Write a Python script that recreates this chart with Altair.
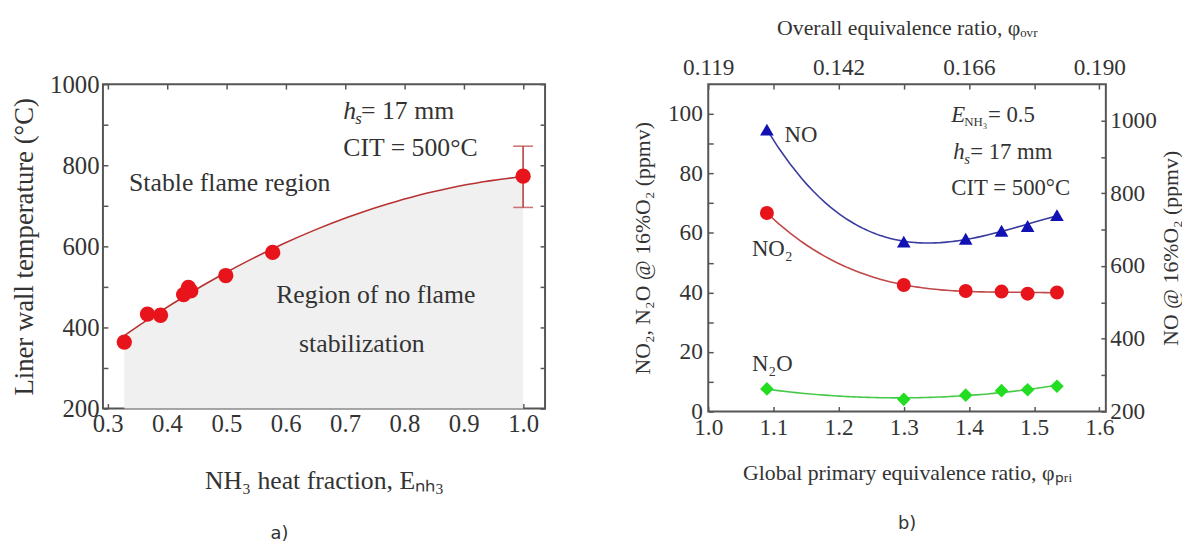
import altair as alt
import pandas as pd

# ---------------- panel a data ----------------
a_frac = [0.328, 0.367, 0.389, 0.428, 0.436, 0.440, 0.499, 0.578, 1.0]
a_temp = [364, 433, 430, 481, 499, 490, 528, 585, 773]
a_err_frac = [1.0]
a_err_lo = [696]
a_err_hi = [847]
a_xticks = [0.3, 0.4, 0.5, 0.6, 0.7, 0.8, 0.9, 1.0]
a_yticks = [200, 300, 400, 500, 600, 700, 800, 900, 1000]
a_text_x = [0.336, 0.584, 0.6225, 0.697]
a_text_y = [757, 479, 359, 843]
a_text = ["Stable flame region", "Region of no flame", "stabilization", "CIT = 500°C"]
a_hs_x = [0.697]
a_hs_y = [933]

# ---------------- panel b data ----------------
b_phi = [1.09, 1.30, 1.395, 1.45, 1.49, 1.535]
b_no = [975, 667, 675, 697, 710, 740]
b_no2 = [66.7, 42.5, 40.5, 40.3, 39.6, 40.0]
b_n2o = [7.6, 4.1, 5.5, 7.0, 7.3, 8.5]
b_xticks = [1.0, 1.1, 1.2, 1.3, 1.4, 1.5, 1.6]
b_top_pos = [1.0, 1.2, 1.4, 1.6]
b_top_labels = ["0.119", "0.142", "0.166", "0.190"]
b_yticks_left = [0, 10, 20, 30, 40, 50, 60, 70, 80, 90, 100]
b_yticks_right = [200, 300, 400, 500, 600, 700, 800, 900, 1000]
b_lab_x = [1.117, 1.067, 1.067, 1.373]
b_lab_y = [92.8, 54.5, 15.9, 75.0]
b_lab = ["NO", "NO₂", "N₂O", "CIT = 500°C"]
b_e_x = [1.373]
b_e_y = [99.5]
b_hs_x = [1.376]
b_hs_y = [87.2]

SERIF = "Liberation Serif"
TXT = "#333333"
AX = "#555555"


def axis(orient, values, fs, labels=True, label_expr=None, title=None,
         title_fs=24, title_pad=10, label_pad=4, **extra):
    kw = dict(orient=orient, values=values, offset=-5, tickSize=5, tickColor=AX,
              tickWidth=1.5, domain=False, grid=False, labels=labels,
              labelFont=SERIF, labelFontSize=fs, labelColor=TXT,
              labelPadding=label_pad, labelFlush=False, labelOverlap=False)
    if label_expr:
        kw["labelExpr"] = label_expr
    if title is not None:
        kw.update(title=title, titleFont=SERIF, titleFontSize=title_fs,
                  titleFontWeight="normal", titleColor=TXT, titlePadding=title_pad)
    else:
        kw["title"] = None
    kw.update(extra)
    return alt.Axis(**kw)


# ================= panel a =================
xs_a = alt.Scale(domain=[0.292, 1.037], nice=False, zero=False)
ys_a = alt.Scale(domain=[200, 1000], nice=False, zero=False)
df_a = pd.DataFrame({"x": a_frac, "y": a_temp})
df_err = pd.DataFrame({"x": a_err_frac, "lo": a_err_lo, "hi": a_err_hi})
every200 = "datum.value % 200 === 0 ? datum.label : ''"


def XA(f, ax=None):
    return alt.X(f, type="quantitative", scale=xs_a, axis=ax)


def YA(f, ax=None):
    return alt.Y(f, type="quantitative", scale=ys_a, axis=ax)


reg_a = alt.Chart(df_a).transform_regression(
    on="x", regression="y", method="poly", order=2, extent=[0.328, 1.0])

area_a = reg_a.mark_area(color="#f0f0f0").encode(
    x=XA("x", axis("bottom", a_xticks, 25, title="NH₃ heat fraction, Eₙₕ₃",
                   title_fs=26, title_pad=32, label_pad=3)),
    y=YA("y", axis("left", a_yticks, 25, label_expr=every200, format="d",
                   title="Liner wall temperature (°C)", title_fs=27, title_pad=11)),
    y2=alt.datum(200),
)
line_a = reg_a.mark_line(color="#b83232", strokeWidth=1.6).encode(x=XA("x"), y=YA("y"))

err_a = alt.Chart(df_err).mark_errorbar(
    color="#b84040", ticks={"size": 20, "thickness": 1.6}, rule={"strokeWidth": 1.6}
).encode(x=XA("x"), y=YA("lo"), y2="hi")

pts_a = alt.Chart(df_a).mark_point(filled=True, size=240, color="#e8141c", opacity=1).encode(
    x=XA("x", axis("top", a_xticks, 25, labels=False)),
    y=YA("y", axis("right", a_yticks, 25, labels=False)),
)

df_at = pd.DataFrame({"x": a_text_x, "y": a_text_y, "t": a_text})
txt_a = alt.Chart(df_at).mark_text(align="left", baseline="middle", font=SERIF,
                                   fontSize=26, color=TXT).encode(
    x=XA("x"), y=YA("y"), text="t:N")
df_ahs = pd.DataFrame({"x": a_hs_x, "y": a_hs_y})
hs_a1 = alt.Chart(df_ahs).mark_text(text="h", align="left", baseline="middle", font=SERIF,
                                    fontSize=26, fontStyle="italic", color=TXT).encode(
    x=XA("x"), y=YA("y"))
hs_a2 = alt.Chart(df_ahs).mark_text(text="s", align="left", baseline="middle", font=SERIF,
                                    fontSize=17, fontStyle="italic", color=TXT,
                                    dx=12, dy=8).encode(x=XA("x"), y=YA("y"))
hs_a3 = alt.Chart(df_ahs).mark_text(text="= 17 mm", align="left", baseline="middle",
                                    font=SERIF, fontSize=26, color=TXT, dx=18).encode(
    x=XA("x"), y=YA("y"))

left = alt.layer(area_a, txt_a, hs_a1, hs_a2, hs_a3, line_a, err_a, pts_a).resolve_scale(
    x="independent", y="independent").properties(
    width=447, height=328,
    title=alt.TitleParams("a)", orient="bottom", font="DejaVu Sans", fontSize=18,
                          fontWeight="normal", color=TXT, offset=32, dx=-45))

# ================= panel b =================
xs_b = alt.Scale(domain=[1.0, 1.61], nice=False, zero=False)
ysl_b = alt.Scale(domain=[0, 110], nice=False, zero=False)
ysr_b = alt.Scale(domain=[200, 1100], nice=False, zero=False)
df_b = pd.DataFrame({"x": b_phi, "no": b_no, "no2": b_no2, "n2o": b_n2o})
every20 = "datum.value % 20 === 0 ? datum.label : ''"
top_expr = " : ".join(
    f"abs(datum.value - {p}) < 0.001 ? '{l}'" for p, l in zip(b_top_pos, b_top_labels)
) + " : ''"


def XB(f, ax=None):
    return alt.X(f, type="quantitative", scale=xs_b, axis=ax)


def YL(f, ax=None):
    return alt.Y(f, type="quantitative", scale=ysl_b, axis=ax)


def YR(f, ax=None):
    return alt.Y(f, type="quantitative", scale=ysr_b, axis=ax)


base_b = alt.Chart(df_b)
ext = [b_phi[0], b_phi[-1]]

n2o_line = base_b.transform_regression(on="x", regression="n2o", method="poly", order=2,
                                       extent=ext).mark_line(
    color="#48c848", strokeWidth=1.6).encode(
    x=XB("x", axis("bottom", b_xticks, 23.5, title="Global primary equivalence ratio, φₚᵣᵢ",
                   title_fs=22, title_pad=24, label_pad=4)),
    y=YL("n2o", axis("left", b_yticks_left, 23.5, label_expr=every20, format="d",
                     title="NO₂, N₂O  @ 16%O₂ (ppmv)", title_fs=22, title_pad=13,
                     label_pad=6)),
)
no2_line = base_b.transform_regression(on="x", regression="no2", method="poly", order=3,
                                       extent=ext).mark_line(
    color="#c04848", strokeWidth=1.6).encode(x=XB("x"), y=YL("no2"))
no_line = base_b.transform_regression(on="x", regression="no", method="poly", order=3,
                                      extent=ext).mark_line(
    color="#3a3aa0", strokeWidth=1.6).encode(x=XB("x"), y=YR("no"))

n2o_pts = base_b.mark_point(shape="diamond", filled=True, size=190, color="#22dd22",
                            opacity=1).encode(x=XB("x"), y=YL("n2o"))
no2_pts = base_b.mark_point(shape="circle", filled=True, size=200, color="#e8141c",
                            opacity=1).encode(
    x=XB("x", axis("top", b_xticks, 23.5, label_expr=top_expr,
                   title="Overall equivalence ratio, φₒᵥᵣ", title_fs=22, title_pad=16,
                   label_pad=5)),
    y=YL("no2"))
no_pts = base_b.mark_point(shape="triangle-up", filled=True, size=190, color="#1212b4",
                           opacity=1).encode(
    x=XB("x"),
    y=YR("no", axis("right", b_yticks_right, 23.5, label_expr=every200, format="d",
                    title="NO @ 16%O₂ (ppmv)", title_fs=22, title_pad=4, label_pad=4,
                    titleAngle=270, titleBaseline="top")),
)

df_bt = pd.DataFrame({"x": b_lab_x, "y": b_lab_y, "t": b_lab})
txt_b = alt.Chart(df_bt).mark_text(align="left", baseline="middle", font=SERIF,
                                   fontSize=23, color=TXT).encode(
    x=XB("x"), y=YL("y"), text="t:N")
df_be = pd.DataFrame({"x": b_e_x, "y": b_e_y})
e1 = alt.Chart(df_be).mark_text(text="E", align="left", baseline="middle", font=SERIF,
                                fontSize=23, fontStyle="italic", color=TXT).encode(
    x=XB("x"), y=YL("y"))
e2 = alt.Chart(df_be).mark_text(text="NH₃", align="left", baseline="middle", font=SERIF,
                                fontSize=13, color=TXT, dx=13, dy=7).encode(
    x=XB("x"), y=YL("y"))
e3 = alt.Chart(df_be).mark_text(text="= 0.5", align="left", baseline="middle", font=SERIF,
                                fontSize=23, color=TXT, dx=37).encode(x=XB("x"), y=YL("y"))
df_bh = pd.DataFrame({"x": b_hs_x, "y": b_hs_y})
h1 = alt.Chart(df_bh).mark_text(text="h", align="left", baseline="middle", font=SERIF,
                                fontSize=23, fontStyle="italic", color=TXT).encode(
    x=XB("x"), y=YL("y"))
h2 = alt.Chart(df_bh).mark_text(text="s", align="left", baseline="middle", font=SERIF,
                                fontSize=15, fontStyle="italic", color=TXT,
                                dx=11, dy=7).encode(x=XB("x"), y=YL("y"))
h3 = alt.Chart(df_bh).mark_text(text="= 17 mm", align="left", baseline="middle",
                                font=SERIF, fontSize=23, color=TXT, dx=17).encode(
    x=XB("x"), y=YL("y"))

right = alt.layer(n2o_line, no2_line, no_line, txt_b, e1, e2, e3, h1, h2, h3,
                  n2o_pts, no2_pts, no_pts).resolve_scale(
    x="independent", y="independent").properties(
    width=402, height=331,
    title=alt.TitleParams("b)", orient="bottom", font="DejaVu Sans", fontSize=18,
                          fontWeight="normal", color=TXT, offset=32))

chart = alt.hconcat(left, right, spacing=84).properties(
    padding={"left": 2, "top": 5, "right": 0, "bottom": 0}
).configure_view(stroke=AX, strokeWidth=2)

chart.save("out.html", embed_options={"renderer": "svg", "actions": False})
